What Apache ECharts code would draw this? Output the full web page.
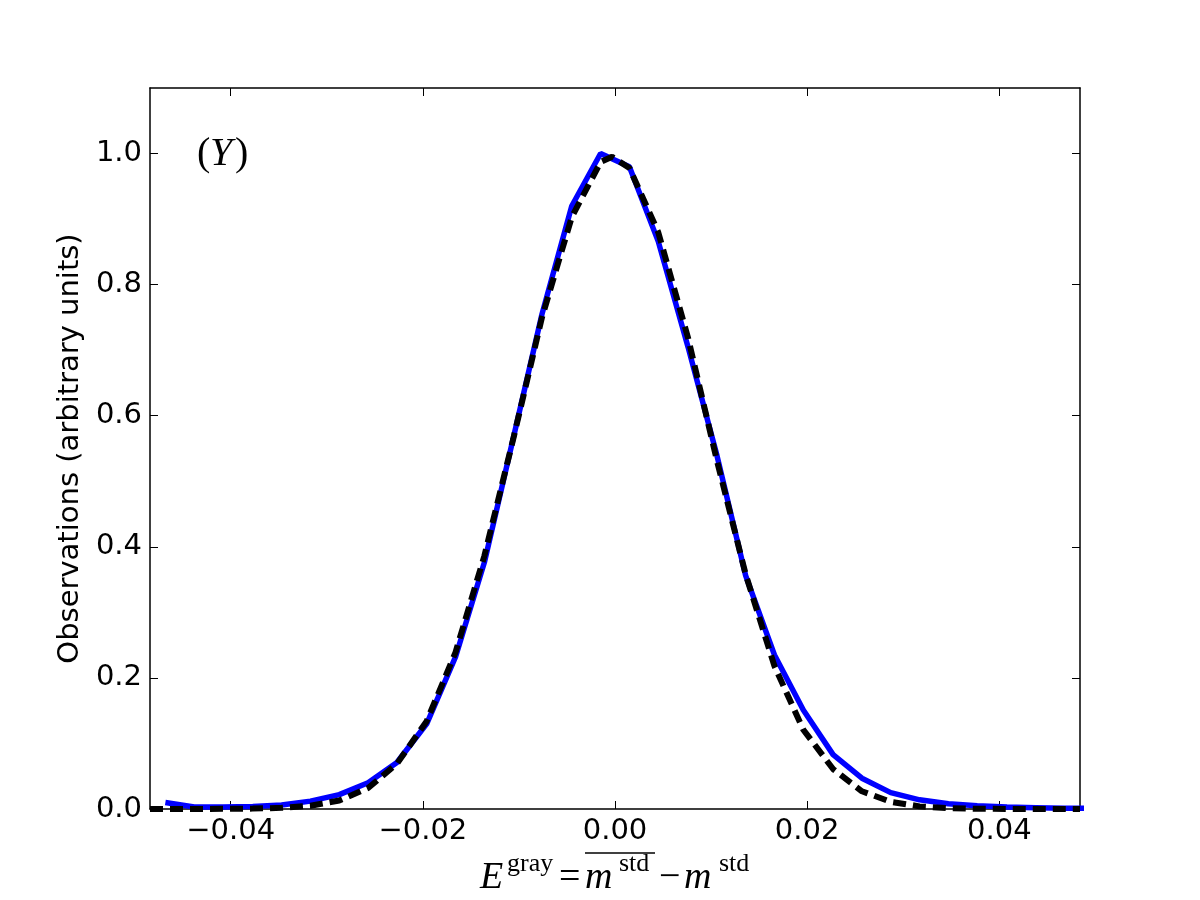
<!DOCTYPE html>
<html><head><meta charset="utf-8">
<script src="https://cdn.jsdelivr.net/npm/echarts@6/dist/echarts.min.js"></script>
<style>html,body{margin:0;padding:0;background:#fff}#chart{width:1200px;height:900px}</style>
</head><body><div id="chart"></div>
<script>
// Histogram bin centres (x) and observed, normalised counts (blue line)
const binCenters = [-0.0468, -0.0438, -0.0408, -0.0377, -0.0347, -0.0317, -0.0287, -0.0257,
  -0.0227, -0.0196, -0.0166, -0.0136, -0.0106, -0.0076, -0.0045, -0.0015,
  0.0015, 0.0045, 0.0076, 0.0106, 0.0136, 0.0166, 0.0196, 0.0227,
  0.0257, 0.0287, 0.0317, 0.0347, 0.0377, 0.0408, 0.0438, 0.0468, 0.0498];
const observed = [0.010, 0.003, 0.003, 0.004, 0.006, 0.012, 0.022, 0.040,
  0.071, 0.130, 0.232, 0.376, 0.565, 0.755, 0.920, 1.000,
  0.980, 0.866, 0.705, 0.540, 0.356, 0.235, 0.151, 0.083,
  0.047, 0.025, 0.014, 0.008, 0.005, 0.003, 0.002, 0.001, 0.001];
// Fitted curve (black dashed)
const fitX = [-0.0484, -0.0468, -0.0438, -0.0408, -0.0377, -0.0347, -0.0317, -0.0287, -0.0257,
  -0.0227, -0.0196, -0.0166, -0.0136, -0.0106, -0.0076, -0.0045, -0.0015, -0.0003,
  0.0015, 0.0045, 0.0076, 0.0106, 0.0136, 0.0166, 0.0196, 0.0227,
  0.0257, 0.0287, 0.0317, 0.0347, 0.0377, 0.0408, 0.0438, 0.0468, 0.0484];
const fitY = [0, 0, 0, 0.0002, 0.0006, 0.0018, 0.005, 0.013, 0.032,
  0.069, 0.134, 0.239, 0.386, 0.564, 0.750, 0.903, 0.987, 0.995,
  0.978, 0.880, 0.719, 0.532, 0.358, 0.218, 0.121, 0.061,
  0.027, 0.011, 0.004, 0.0014, 0.0004, 0.0001, 0, 0, 0];
const xTickValues = [-0.04, -0.02, 0.00, 0.02, 0.04];
const yTickValues = [0.0, 0.2, 0.4, 0.6, 0.8, 1.0];
const xRange = [-0.0484, 0.0484];
const yRange = [0, 1.1];
const yAxisTitle = 'Observations (arbitrary units)';
const panelTag = 'Y';

const fmtX = v => (v < 0 ? '\u2212' : '') + Math.abs(v).toFixed(2);
const fmtY = v => v.toFixed(1);

function axisCfg(showLabels, ticks, fmt) {
  return {
    type: 'value',
    axisLine: {show: true, onZero: false, lineStyle: {color: '#000', width: 1.5}},
    axisTick: {show: true, inside: true, length: 8, customValues: ticks, lineStyle: {color: '#000', width: 1}},
    axisLabel: {show: showLabels, customValues: ticks, formatter: fmt, color: '#000',
      fontFamily: 'DejaVu Sans', fontSize: 29, margin: 8},
    splitLine: {show: false}
  };
}

function mathText(txt, x, baseline, size, italic) {
  return {type: 'text', x: x, y: baseline - 0.34 * size, silent: true,
    style: {text: txt, fill: '#000', font: (italic ? 'italic ' : '') + size + 'px "Liberation Serif"',
      align: 'left', verticalAlign: 'middle'}};
}

const chart = echarts.init(document.getElementById('chart'), null, {renderer: 'canvas'});
chart.setOption({
  animation: false,
  backgroundColor: '#fff',
  grid: {left: 150, right: 120, top: 88, bottom: 91, containLabel: false},
  xAxis: [
    Object.assign(axisCfg(true, xTickValues, fmtX), {position: 'bottom', min: xRange[0], max: xRange[1]}),
    Object.assign(axisCfg(false, xTickValues, fmtX), {position: 'top', min: xRange[0], max: xRange[1]})
  ],
  yAxis: [
    Object.assign(axisCfg(true, yTickValues, fmtY), {position: 'left', min: yRange[0], max: yRange[1],
      name: yAxisTitle, nameLocation: 'middle', nameGap: 56,
      nameTextStyle: {fontFamily: 'DejaVu Sans', fontSize: 29, color: '#000'}}),
    Object.assign(axisCfg(false, yTickValues, fmtY), {position: 'right', min: yRange[0], max: yRange[1]})
  ],
  series: [
    {type: 'line', xAxisIndex: 0, yAxisIndex: 0, data: binCenters.map((x, i) => [x, observed[i]]),
      symbol: 'none', clip: true, z: 2,
      lineStyle: {color: '#0000ff', width: 5.5}, itemStyle: {color: '#0000ff'}},
    {type: 'line', xAxisIndex: 0, yAxisIndex: 0, data: fitX.map((x, i) => [x, fitY[i]]),
      symbol: 'none', clip: true, z: 3,
      lineStyle: {color: '#000', width: 6, type: [13, 7]}, itemStyle: {color: '#000'}}
  ],
  graphic: [
    // panel tag (Y)
    mathText('(', 197, 168, 40, false),
    mathText(panelTag, 210, 168, 40, true),
    mathText(')', 235, 168, 40, false),
    // x-axis title: E^gray = overline(m^std) - m^std
    mathText('E', 480, 891, 38, true),
    mathText('gray', 507, 873, 26, false),
    mathText('=', 559, 891, 38, false),
    mathText('m', 585, 891, 38, true),
    mathText('std', 619, 873, 26, false),
    {type: 'line', silent: true, shape: {x1: 585, y1: 853, x2: 655, y2: 853}, style: {stroke: '#000', lineWidth: 1.5}},
    mathText('\u2212', 659, 891, 38, false),
    mathText('m', 684, 891, 38, true),
    mathText('std', 719, 873, 26, false)
  ]
});
</script></body></html>
